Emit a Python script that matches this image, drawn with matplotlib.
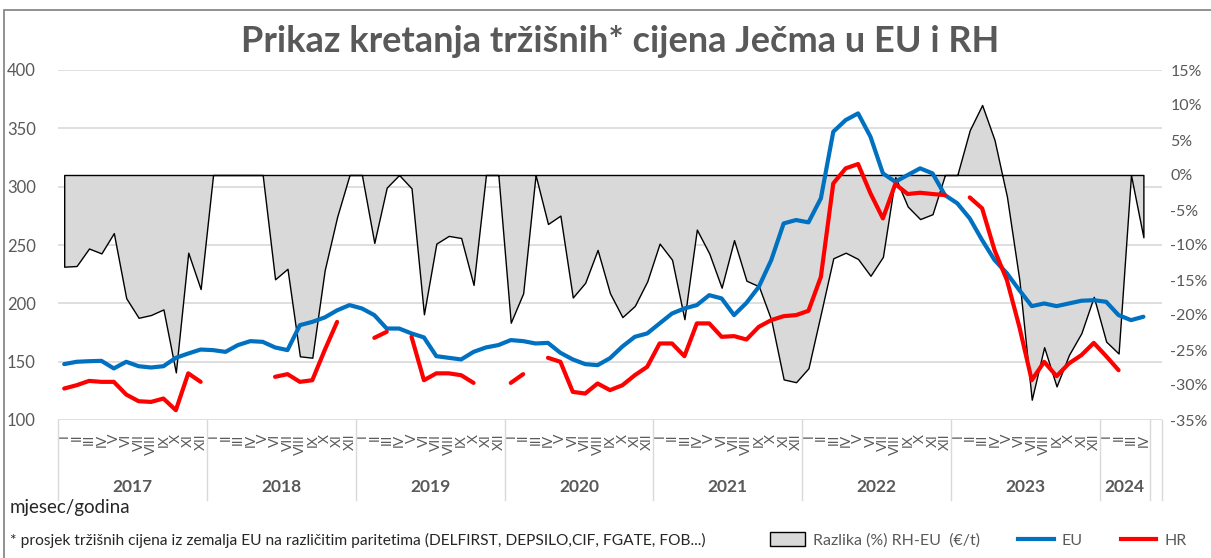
import numpy as np
import matplotlib.pyplot as plt
import matplotlib.transforms as mtransforms
from matplotlib.patches import Patch, Rectangle
from matplotlib.lines import Line2D

plt.rcParams['font.family'] = ['Lato', 'DejaVu Sans']

nan = np.nan

# mjeseci (rimski brojevi) i godine
months = ['I', 'II', 'III', 'IV', 'V', 'VI', 'VII', 'VIII', 'IX', 'X', 'XI', 'XII']
years = ['2017', '2018', '2019', '2020', '2021', '2022', '2023', '2024']
month_labels = months * 7 + months[:4]

# EU cijena (EUR/t)
eu = [147.9, 149.9, 150.4, 150.7, 144.2, 149.9, 146.1, 145.0, 146.1, 153.3, 157.0, 160.4,
      159.9, 158.4, 164.2, 167.6, 167.0, 162.2, 159.9, 181.3, 184.1, 187.9, 194.0, 198.5,
      195.6, 189.9, 178.4, 178.4, 174.2, 170.8, 154.7, 153.3, 151.9, 158.4, 162.2, 164.2,
      168.5, 167.6, 165.6, 166.1, 157.6, 151.9, 147.9, 147.0, 153.0, 163.0, 171.3, 174.2,
      182.8, 191.3, 195.6, 198.5, 207.0, 204.2, 189.9, 200.4, 214.2, 237.1, 268.5, 271.4,
      269.4, 290.0, 347.1, 357.1, 362.8, 342.8, 311.4, 304.2, 310.0, 315.7, 311.4, 292.8,
      285.7, 272.8, 254.2, 237.1, 225.7, 211.3, 197.6, 199.9, 197.6, 199.9, 202.2, 202.7,
      201.3, 189.9, 185.6, 188.5]

# HR cijena (EUR/t)
hr = [127.0, 129.8, 133.5, 132.7, 132.7, 121.8, 116.1, 115.5, 118.4, 108.4, 140.0, 132.7,
      nan, nan, nan, nan, nan, 137.0, 139.3, 132.7, 134.1, 159.9, 184.1, nan,
      nan, 170.4, 175.6, nan, 171.3, 134.1, 140.0, 140.0, 138.4, 131.8, nan, nan,
      131.8, 139.3, nan, 153.3, 149.9, 124.1, 122.7, 131.3, 125.6, 129.8, 138.4, 145.6,
      165.6, 165.6, 154.7, 182.8, 182.8, 171.3, 171.9, 169.0, 179.9, 185.6, 189.0, 189.9,
      193.6, 222.7, 302.8, 315.7, 319.4, 294.2, 272.8, 302.2, 293.7, 294.8, 293.7, 292.8,
      nan, 290.8, 281.4, 245.6, 219.9, 179.9, 134.1, 149.9, 137.6, 148.5, 155.6, 166.1,
      154.7, 142.7, nan, nan]

# razlika (%) RH-EU
razlika = [-13.1, -13.0, -10.5, -11.2, -8.3, -17.6, -20.4, -20.0, -19.2, -28.2, -11.1, -16.3,
           0, 0, 0, 0, 0, -14.9, -13.4, -25.9, -26.1, -13.6, -6.0, 0,
           0, -9.7, -1.8, 0, -1.9, -19.9, -9.8, -8.7, -9.0, -15.7, 0, 0,
           -21.1, -16.9, 0, -7.0, -5.8, -17.5, -15.4, -10.7, -16.9, -20.3, -18.7, -15.2,
           -9.8, -12.1, -20.6, -7.8, -11.2, -16.1, -9.3, -15.1, -15.9, -20.7, -29.2, -29.6,
           -27.6, -19.8, -11.9, -11.1, -12.0, -14.4, -11.7, -0.3, -4.5, -6.3, -5.6, 0,
           0, 6.4, 10.0, 5.0, -3.1, -15.0, -32.1, -24.6, -30.2, -25.7, -22.6, -17.4,
           -23.8, -25.5, 0, -8.9]

GREY = '#595959'
W, H = 1211, 558

fig = plt.figure(figsize=(W / 100, H / 100), dpi=100)
ax = fig.add_axes([58 / W, 1 - 420 / H, (1162 - 58) / W, 350 / H])
ax2 = ax.twinx()
ax.set_zorder(ax2.get_zorder() + 1)
ax.patch.set_visible(False)

x = np.arange(len(eu))
ax.set_xlim(-0.5, 88.5)
ax.set_ylim(100, 400)
ax2.set_ylim(-35, 15)

# gridlines of the primary axis, drawn behind the area
left_ticks = list(range(100, 401, 50))
for v in left_ticks:
    p = -35 + (v - 100) / 300 * 50
    ax2.axhline(p, color='#d9d9d9', lw=1.2, zorder=0)

ax2.fill_between(x, 0, razlika, facecolor='#d9d9d9', edgecolor='black', linewidth=1, zorder=2)

ax.plot(x, eu, color='#0070C0', lw=3, solid_capstyle='round', solid_joinstyle='round')
ax.plot(x, hr, color='#FF0000', lw=3, solid_capstyle='round', solid_joinstyle='round')

for a in (ax, ax2):
    for s in a.spines.values():
        s.set_visible(False)

ax.set_yticks(left_ticks)
ax.tick_params(axis='y', length=0, pad=16, labelsize=12, labelcolor=GREY)
right_ticks = list(range(-35, 16, 5))
ax2.set_yticks(right_ticks)
ax2.set_yticklabels([f'{v}%' for v in right_ticks])
ax2.tick_params(axis='y', length=0, pad=6, labelsize=11.5, labelcolor=GREY)

ax.set_xticks(x)
ax.set_xticklabels(month_labels, rotation=90, fontsize=10, color=GREY)
ax.tick_params(axis='x', length=0, pad=10)

# year groups
trans = mtransforms.blended_transform_factory(ax.transData, ax.transAxes)
bounds = [-0.5 + 12 * k for k in range(8)] + [87.5, 88.5]
for b in bounds:
    ax.plot([b, b], [0, -80 / 350], transform=trans, color='#d9d9d9', lw=1, clip_on=False)
for k, yr in enumerate(years):
    start = 12 * k - 0.5
    end = min(start + 12, 87.5)
    ax.text((start + end) / 2, -(487 - 420) / 350, yr, transform=trans, ha='center', va='center',
            fontsize=12.5, fontweight='bold', color=GREY)

fig.text(620 / W, 1 - 42 / H, 'Prikaz kretanja tržišnih* cijena Ječma u EU i RH', ha='center', va='center',
         fontsize=26, fontweight='bold', color=GREY)

fig.text(10 / W, 1 - 507 / H, 'mjesec/godina', fontsize=13.5, va='center', color='#262626')
fig.text(10 / W, 1 - 540 / H,
         '* prosjek tržišnih cijena iz zemalja EU na različitim paritetima (DELFIRST, DEPSILO,CIF, FGATE, FOB...)',
         fontsize=11.2, va='center', color='#262626')

handles = [Patch(facecolor='#d9d9d9', edgecolor='black', linewidth=1),
           Line2D([], [], color='#0070C0', lw=3),
           Line2D([], [], color='#FF0000', lw=3)]
labels = ['Razlika (%) RH-EU  (€/t)', 'EU', 'HR']
fig.legend(handles, labels, loc='center left', bbox_to_anchor=(770 / W, 1 - 540 / H), ncol=3,
           frameon=False, fontsize=11.5, labelcolor=GREY, handlelength=2.2, handleheight=1.0,
           columnspacing=2.4, handletextpad=0.5, borderaxespad=0, borderpad=0)

# chart border (only top and left inside the image)
fig.add_artist(Rectangle((4 / W, -0.1), 1.2, 1.1 - 10 / H, transform=fig.transFigure,
                         fill=False, edgecolor='#7f7f7f', lw=1.2))

fig.savefig('out.png', dpi=100)
